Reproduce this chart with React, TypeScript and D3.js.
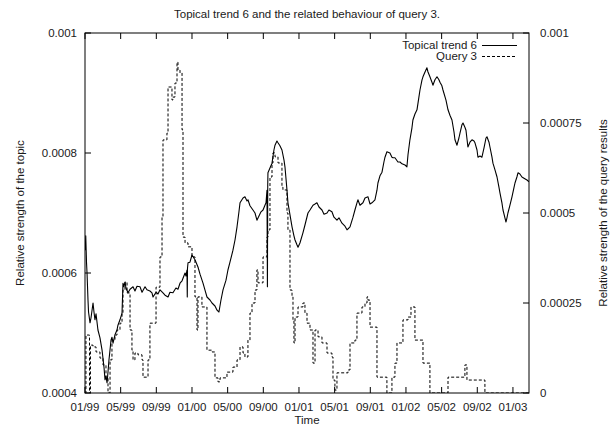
import React from "react";
import * as d3 from "d3";

// Time as decimal years
const trendTime = [
  1999.003, 1999.007, 1999.014, 1999.019, 1999.028, 1999.033, 1999.047, 1999.056, 1999.075, 1999.084,
  1999.093, 1999.103, 1999.121, 1999.14, 1999.159, 1999.178, 1999.187, 1999.196, 1999.206, 1999.215,
  1999.224, 1999.234, 1999.243, 1999.252, 1999.262, 1999.28, 1999.299, 1999.308, 1999.327, 1999.346,
  1999.355, 1999.364, 1999.374, 1999.383, 1999.402, 1999.421, 1999.449, 1999.467, 1999.486, 1999.514,
  1999.533, 1999.561, 1999.579, 1999.607, 1999.626, 1999.636, 1999.664, 1999.682, 1999.701, 1999.729,
  1999.748, 1999.776, 1999.794, 1999.822, 1999.85, 1999.869, 1999.888, 1999.907, 1999.935, 1999.944,
  1999.953, 1999.956, 1999.958, 1999.963, 1999.981, 2000.0, 2000.028, 2000.056, 2000.075, 2000.103,
  2000.121, 2000.14, 2000.168, 2000.187, 2000.215, 2000.234, 2000.252, 2000.271, 2000.29, 2000.318,
  2000.336, 2000.355, 2000.383, 2000.402, 2000.421, 2000.439, 2000.449, 2000.477, 2000.495, 2000.514,
  2000.523, 2000.542, 2000.57, 2000.589, 2000.607, 2000.626, 2000.645, 2000.664, 2000.682, 2000.692,
  2000.701, 2000.705, 2000.708, 2000.71, 2000.729, 2000.748, 2000.766, 2000.776, 2000.794, 2000.804,
  2000.822, 2000.841, 2000.86, 2000.869, 2000.888, 2000.897, 2000.916, 2000.935, 2000.953, 2000.963,
  2000.981, 2000.991, 2001.009, 2001.037, 2001.056, 2001.084, 2001.103, 2001.131, 2001.15, 2001.168,
  2001.187, 2001.215, 2001.234, 2001.262, 2001.28, 2001.308, 2001.327, 2001.355, 2001.374, 2001.402,
  2001.43, 2001.449, 2001.467, 2001.477, 2001.505, 2001.523, 2001.542, 2001.551, 2001.57, 2001.598,
  2001.617, 2001.645, 2001.664, 2001.682, 2001.71, 2001.729, 2001.738, 2001.757, 2001.776, 2001.794,
  2001.804, 2001.822, 2001.85, 2001.869, 2001.879, 2001.897, 2001.925, 2001.944, 2001.963, 2001.991,
  2002.009, 2002.019, 2002.037, 2002.056, 2002.065, 2002.084, 2002.103, 2002.121, 2002.131, 2002.15,
  2002.159, 2002.178, 2002.196, 2002.206, 2002.224, 2002.243, 2002.252, 2002.271, 2002.29, 2002.308,
  2002.318, 2002.336, 2002.346, 2002.374, 2002.393, 2002.411, 2002.43, 2002.449, 2002.458, 2002.477,
  2002.495, 2002.505, 2002.523, 2002.533, 2002.551, 2002.561, 2002.579, 2002.598, 2002.617, 2002.636,
  2002.645, 2002.664, 2002.673, 2002.692, 2002.71, 2002.729, 2002.748, 2002.757, 2002.776, 2002.785,
  2002.804, 2002.813, 2002.832, 2002.851, 2002.869, 2002.879, 2002.897, 2002.907, 2002.925, 2002.935,
  2002.944, 2002.953, 2002.972, 2002.991, 2003.009, 2003.019, 2003.037, 2003.047, 2003.065, 2003.084,
  2003.103, 2003.131, 2003.15,
];

const trendValues = [
  0.000638, 0.000662, 0.000618, 0.0006, 0.000555, 0.000535, 0.000517, 0.000525, 0.00055, 0.000535,
  0.000522, 0.000532, 0.000505, 0.000492, 0.000472, 0.000442, 0.000422, 0.000428, 0.000417, 0.000435,
  0.000455, 0.000472, 0.000488, 0.000493, 0.000483, 0.000497, 0.000505, 0.000513, 0.000522, 0.000533,
  0.000583, 0.000577, 0.000585, 0.000575, 0.000567, 0.000573, 0.000577, 0.00057, 0.000578, 0.000577,
  0.000568, 0.000577, 0.000572, 0.00057, 0.000567, 0.00056, 0.000568, 0.000565, 0.000572, 0.000567,
  0.000563, 0.00056, 0.000568, 0.000567, 0.000575, 0.000573, 0.000583, 0.000587, 0.0006, 0.000595,
  0.000605, 0.00056, 0.000608, 0.000617, 0.000618, 0.00063, 0.000622, 0.00061, 0.000598, 0.000583,
  0.000572, 0.00056, 0.000555, 0.00055, 0.000545, 0.000538, 0.000535, 0.000555, 0.000572, 0.000588,
  0.000605, 0.000618, 0.000638, 0.000655, 0.000677, 0.000702, 0.000717, 0.000725, 0.000727, 0.00072,
  0.000722, 0.000712, 0.000705, 0.0007, 0.000688, 0.000695, 0.000702, 0.000705, 0.000713, 0.000717,
  0.000738, 0.000577, 0.000747, 0.000767, 0.000775, 0.000783, 0.000805, 0.000813, 0.00082, 0.000817,
  0.000812, 0.000805, 0.000788, 0.000777, 0.000738, 0.000717, 0.000697, 0.000677, 0.000662, 0.000655,
  0.000647, 0.000643, 0.00065, 0.000667, 0.00068, 0.0007, 0.000705, 0.000713, 0.000715, 0.000717,
  0.00071, 0.000705, 0.000698, 0.0007, 0.000705, 0.000702, 0.000693, 0.000688, 0.000692, 0.000683,
  0.000678, 0.000672, 0.000675, 0.000677, 0.000693, 0.000705, 0.000717, 0.000722, 0.000713, 0.000717,
  0.000725, 0.000727, 0.000715, 0.000717, 0.000722, 0.000738, 0.00075, 0.000762, 0.000768, 0.000785,
  0.000793, 0.000802, 0.0008, 0.000793, 0.000792, 0.000792, 0.000785, 0.000785, 0.000782, 0.00078,
  0.000777, 0.000797, 0.000822, 0.000842, 0.000855, 0.000865, 0.000872, 0.000893, 0.000905, 0.000922,
  0.000927, 0.000935, 0.000942, 0.000935, 0.000927, 0.000918, 0.000913, 0.000922, 0.000927, 0.000922,
  0.000918, 0.000912, 0.000905, 0.000888, 0.000872, 0.000863, 0.000855, 0.000835, 0.000822, 0.000813,
  0.000825, 0.000833, 0.000847, 0.00085, 0.000843, 0.000838, 0.00081, 0.000818, 0.000822, 0.00082,
  0.000817, 0.000805, 0.000793, 0.000795, 0.000793, 0.000808, 0.000825, 0.000827, 0.000818, 0.00081,
  0.000793, 0.000783, 0.000772, 0.00076, 0.000743, 0.000733, 0.000717, 0.000705, 0.000692, 0.000685,
  0.000692, 0.0007, 0.000713, 0.000727, 0.000742, 0.00075, 0.00076, 0.000767, 0.000765, 0.00076,
  0.000758, 0.000755, 0.000752,
];

const queryTime = [
  1999.0, 1999.009, 1999.042, 1999.051, 1999.075, 1999.103, 1999.14, 1999.168, 1999.196, 1999.215,
  1999.234, 1999.252, 1999.28, 1999.299, 1999.327, 1999.346, 1999.355, 1999.374, 1999.393, 1999.421,
  1999.439, 1999.449, 1999.467, 1999.495, 1999.533, 1999.542, 1999.589, 1999.607, 1999.664, 1999.701,
  1999.72, 1999.729, 1999.766, 1999.776, 1999.813, 1999.822, 1999.841, 1999.86, 1999.869, 1999.888,
  1999.907, 1999.916, 1999.935, 1999.963, 2000.0, 2000.028, 2000.047, 2000.056, 2000.093, 2000.14,
  2000.187, 2000.215, 2000.243, 2000.262, 2000.327, 2000.383, 2000.421, 2000.449, 2000.477, 2000.495,
  2000.523, 2000.542, 2000.561, 2000.589, 2000.607, 2000.617, 2000.664, 2000.701, 2000.71, 2000.729,
  2000.748, 2000.757, 2000.776, 2000.804, 2000.841, 2000.85, 2000.888, 2000.897, 2000.916, 2000.935,
  2000.944, 2000.953, 2000.963, 2000.991, 2001.037, 2001.056, 2001.075, 2001.103, 2001.131, 2001.15,
  2001.178, 2001.215, 2001.262, 2001.308, 2001.318, 2001.336, 2001.355, 2001.458, 2001.477, 2001.523,
  2001.542, 2001.589, 2001.617, 2001.636, 2001.645, 2001.664, 2001.729, 2001.822, 2001.869, 2001.897,
  2001.916, 2001.972, 2002.019, 2002.047, 2002.084, 2002.159, 2002.224, 2002.393, 2002.551, 2002.57,
  2002.738, 2003.15,
];

const queryValues = [
  0, 0.000161, 0, 0.000133, 0.000128, 0.000114, 0.000097, 0.000078, 0.000042, 0,
  0.000092, 0.000147, 0.000161, 0.000175, 0.000194, 0.000222, 0.000286, 0.000308, 0.000278, 0.000175,
  0.000119, 0.000092, 0.000111, 0.000106, 0.000092, 0.000044, 0.000092, 0.000194, 0.000294, 0.000378,
  0.000489, 0.000703, 0.000722, 0.00085, 0.000814, 0.000822, 0.000861, 0.000919, 0.000897, 0.000889,
  0.000731, 0.000433, 0.000417, 0.000406, 0.000378, 0.000267, 0.000175, 0.000267, 0.000239, 0.000119,
  0.000114, 0.000042, 0.000031, 0.000042, 0.000058, 0.000072, 0.000092, 0.000128, 0.000111, 0.0001,
  0.000147, 0.000222, 0.00025, 0.000286, 0.000342, 0.000306, 0.000378, 0.000433, 0.000453, 0.0006,
  0.000639, 0.000667, 0.000656, 0.000639, 0.000572, 0.000564, 0.0005, 0.000453, 0.000286, 0.000267,
  0.000203, 0.000139, 0.000211, 0.000239, 0.00025, 0.000222, 0.000194, 0.000175, 0.000083, 0.000175,
  0.000156, 0.000139, 0.000111, 0.0001, 0.000036, 0.000008, 0.000056, 0.000064, 0.000139, 0.000147,
  0.000222, 0.000239, 0.00025, 0.000267, 0.000258, 0.000183, 0.000044, 0, 0.000044, 0.000083,
  0.000139, 0.000203, 0.000211, 0.000239, 0.000147, 0.000083, 0, 0.000044, 0.000078, 0.000036,
  0, 0,
];

const xTickValues = [
  1999, 1999 + 1 / 3, 1999 + 2 / 3, 2000, 2000 + 1 / 3, 2000 + 2 / 3, 2001, 2001 + 1 / 3, 2001 + 2 / 3,
  2002, 2002 + 1 / 3, 2002 + 2 / 3, 2003,
];
const xTickLabels = ["01/99", "05/99", "09/99", "01/00", "05/00", "09/00", "01/01", "05/01", "09/01", "01/02", "05/02", "09/02", "01/03"];
const leftTicks = [0.0004, 0.0006, 0.0008, 0.001];
const leftTickLabels = ["0.0004", "0.0006", "0.0008", "0.001"];
const rightTicks = [0, 0.00025, 0.0005, 0.00075, 0.001];
const rightTickLabels = ["0", "0.00025", "0.0005", "0.00075", "0.001"];
const xDomain = [1999, 2003.15];
const leftDomain = [0.0004, 0.001];
const rightDomain = [0, 0.001];

const W = 610;
const H = 427;
const M = { left: 85, right: 529, top: 33, bottom: 393 };
const FONT = "'Liberation Sans', Arial, Helvetica, sans-serif";
const FS = 11.5;
const TXT = "#1a1a1a";

export default function App() {
  const x = d3.scaleLinear().domain(xDomain).range([M.left, M.right]);
  const yL = d3.scaleLinear().domain(leftDomain).range([M.bottom, M.top]);
  const yR = d3.scaleLinear().domain(rightDomain).range([M.bottom, M.top]);

  const trendLine = d3
    .line<number>()
    .x((_, i) => x(trendTime[i]))
    .y((d) => yL(d));
  const queryLine = d3
    .line<number>()
    .x((_, i) => x(queryTime[i]))
    .y((d) => yR(d))
    .curve(d3.curveStepAfter);

  const tl = 6;
  const legendX = 477;

  return (
    <div style={{ position: "fixed", left: 0, top: 0 }}>
      <svg width={W} height={H} style={{ display: "block", background: "#fff" }} fontFamily={FONT} fontSize={FS}>
        <defs>
          <clipPath id="plot">
            <rect x={M.left} y={M.top} width={M.right - M.left} height={M.bottom - M.top} />
          </clipPath>
        </defs>
        <text x={(M.left + M.right) / 2} y={18} textAnchor="middle" fill={TXT}>
          Topical trend 6 and the related behaviour of query 3.
        </text>

        {xTickValues.map((t, i) => (
          <g key={"xt" + i}>
            <line x1={x(t)} x2={x(t)} y1={M.bottom} y2={M.bottom - tl} stroke="#000" />
            <line x1={x(t)} x2={x(t)} y1={M.top} y2={M.top + tl} stroke="#000" />
            <text x={x(t)} y={M.bottom + 18} textAnchor="middle" fill={TXT}>
              {xTickLabels[i]}
            </text>
          </g>
        ))}
        {leftTicks.map((v, i) => (
          <g key={"yl" + i}>
            <line x1={M.left} x2={M.left + tl} y1={yL(v)} y2={yL(v)} stroke="#000" />
            <text x={M.left - 8} y={yL(v) + 4} textAnchor="end" fill={TXT}>
              {leftTickLabels[i]}
            </text>
          </g>
        ))}
        {rightTicks.map((v, i) => (
          <g key={"yr" + i}>
            <line x1={M.right} x2={M.right - tl} y1={yR(v)} y2={yR(v)} stroke="#000" />
            <text x={M.right + 11} y={yR(v) + 4} textAnchor="start" fill={TXT}>
              {rightTickLabels[i]}
            </text>
          </g>
        ))}

        <g clipPath="url(#plot)">
          <path d={queryLine(queryValues) || ""} fill="none" stroke="#000" strokeWidth={1} strokeDasharray="3,2" />
          <path d={trendLine(trendValues) || ""} fill="none" stroke="#000" strokeWidth={1.1} strokeLinejoin="round" />
        </g>

        <rect x={M.left} y={M.top} width={M.right - M.left} height={M.bottom - M.top} fill="none" stroke="#000" strokeWidth={1} />

        <text x={legendX} y={49} textAnchor="end" fill={TXT}>Topical trend 6</text>
        <line x1={482} x2={517} y1={45.5} y2={45.5} stroke="#000" />
        <text x={legendX} y={60} textAnchor="end" fill={TXT}>Query 3</text>
        <line x1={482} x2={517} y1={56.5} y2={56.5} stroke="#000" strokeDasharray="3,2" />

        <text x={(M.left + M.right) / 2} y={424} textAnchor="middle" fill={TXT}>Time</text>
        <text transform={`translate(24,${(M.top + M.bottom) / 2}) rotate(-90)`} textAnchor="middle" fill={TXT}>
          Relative strength of the topic
        </text>
        <text transform={`translate(607,${(M.top + M.bottom) / 2}) rotate(-90)`} textAnchor="middle" fill={TXT}>
          Relative strength of the query results
        </text>
      </svg>
    </div>
  );
}
